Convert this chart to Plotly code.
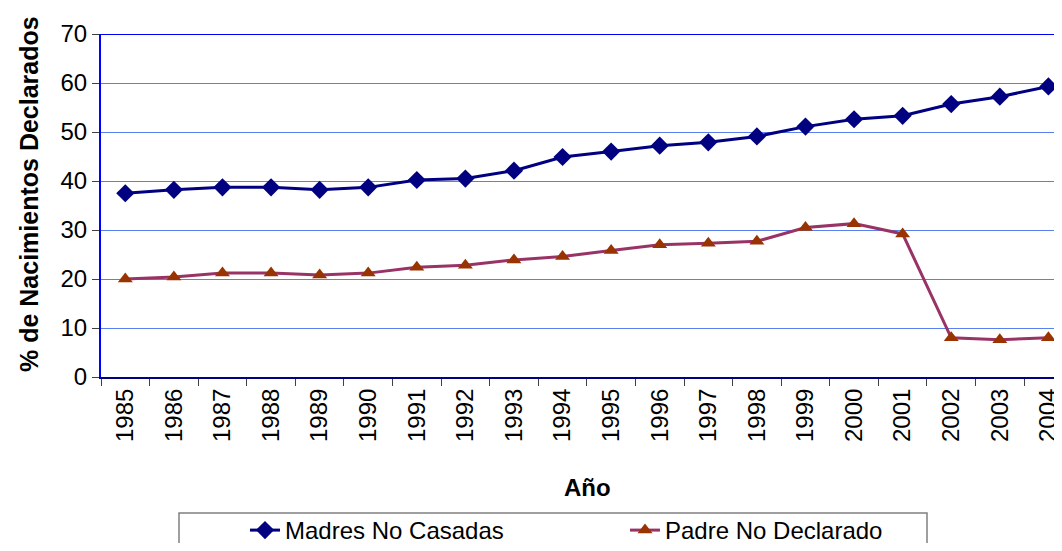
import plotly.graph_objects as go

years = [str(y) for y in range(1985, 2005)]
madres = [37.5, 38.2, 38.7, 38.7, 38.2, 38.7, 40.2, 40.5, 42.1, 44.9,
          46.0, 47.2, 47.9, 49.1, 51.1, 52.6, 53.3, 55.7, 57.2, 59.3]
padre = [20.0, 20.4, 21.2, 21.2, 20.8, 21.2, 22.4, 22.8, 23.9, 24.6,
         25.8, 27.0, 27.3, 27.7, 30.5, 31.3, 29.2, 8.0, 7.6, 8.0]
y_ticks = [0, 10, 20, 30, 40, 50, 60, 70]

# page has an 8px body margin; figure is sized so the page does not scroll
OFF = 8
W, H = 1062 - OFF, 551 - 2 * OFF
L, R, T = 101 - OFF, 0, 34 - OFF
B = H - (377 - OFF)
pw, ph = W - L - R, H - T - B


def sx(p):  # screen px -> paper x
    return (p - OFF - L) / pw


def sy(p):  # screen px -> paper y
    return (H - B - (p - OFF)) / ph


FONT = "Arial, Liberation Sans, sans-serif"

fig = go.Figure()
fig.add_trace(go.Scatter(
    x=years, y=madres, name="Madres No Casadas", mode="lines+markers",
    line=dict(color="#000080", width=3),
    marker=dict(symbol="diamond", size=14, color="#000080"),
))
fig.add_trace(go.Scatter(
    x=years, y=padre, name="Padre No Declarado", mode="lines+markers",
    line=dict(color="#993366", width=3),
    marker=dict(symbol="triangle-up", size=13, color="#993300"),
))

# top border line at 70
fig.add_shape(type="line", xref="paper", yref="y", x0=0, x1=1, y0=70, y1=70,
              line=dict(color="#0000FF", width=2))
# legend box
fig.add_shape(type="rect", xref="paper", yref="paper",
              x0=sx(179), x1=sx(927), y0=sy(513), y1=sy(570),
              line=dict(color="#808080", width=1.5), fillcolor="rgba(0,0,0,0)")

# axis titles
fig.add_annotation(text="<b>Año</b>", xref="paper", yref="paper",
                   x=sx(587), y=sy(487), showarrow=False,
                   xanchor="center", yanchor="middle",
                   font=dict(size=24, family=FONT, color="black"))
fig.add_annotation(text="<b>% de Nacimientos Declarados</b>", xref="paper", yref="paper",
                   x=sx(29), y=sy(194), showarrow=False, textangle=-90,
                   xanchor="center", yanchor="middle",
                   font=dict(size=25, family=FONT, color="black"))

fig.update_layout(
    width=W, height=H,
    margin=dict(l=L, r=R, t=T, b=B, autoexpand=False),
    paper_bgcolor="white", plot_bgcolor="white",
    font=dict(family=FONT, size=24, color="black"),
    showlegend=True,
    legend=dict(
        orientation="h", xref="container", yref="container",
        x=237 / W, y=1 - 500 / H, xanchor="left", yanchor="top",
        bgcolor="rgba(0,0,0,0)", borderwidth=0,
        font=dict(size=24, family=FONT),
        entrywidth=335, entrywidthmode="pixels",
    ),
    xaxis=dict(
        type="category", range=[-0.5, 19.28],
        tickangle=-90, tickson="boundaries",
        ticks="outside", ticklen=7, tickcolor="#404040",
        showline=True, linecolor="#000080", linewidth=2,
        showgrid=False,
        tickfont=dict(size=24),
    ),
    yaxis=dict(
        range=[0, 70], tickvals=y_ticks,
        ticks="outside", ticklen=7, tickcolor="#404040",
        showline=True, linecolor="#0000FF", linewidth=2,
        showgrid=True, gridcolor="#5a80f0", gridwidth=1,
        zeroline=False,
        tickfont=dict(size=24),
    ),
)

fig.write_html("out.html")
